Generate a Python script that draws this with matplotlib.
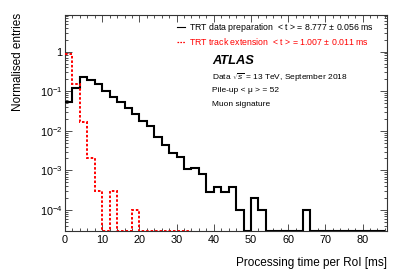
import numpy as np
import matplotlib
matplotlib.use("Agg")
import matplotlib.pyplot as plt
from matplotlib.lines import Line2D
from matplotlib.ticker import FixedLocator, FixedFormatter, LogLocator, MultipleLocator, NullFormatter

plt.rcParams['font.family'] = ['Liberation Sans', 'DejaVu Sans']
plt.rcParams['mathtext.fontset'] = 'custom'
plt.rcParams['mathtext.rm'] = 'Liberation Sans'
plt.rcParams['mathtext.it'] = 'Liberation Sans:italic'
plt.rcParams['mathtext.bf'] = 'Liberation Sans:bold'

# bin edges, 2 ms wide
edges_prep = np.arange(0, 88, 2)
edges_ext = np.arange(0, 36, 2)

# TRT data preparation, normalised entries per bin
prep = [0.054, 0.118, 0.223, 0.191, 0.149, 0.101, 0.072, 0.052, 0.038, 0.0264,
        0.0179, 0.0134, 0.0070, 0.00435, 0.00278, 0.0022, 0.00106, 0.00116, 0.00079, 0.00029,
        0.000386, 0.00029, 0.000386, 0.0001, 0, 0.0002, 0.0001, 0, 0, 0,
        0, 0, 0.0001, 0, 0, 0, 0, 0, 0, 0,
        0, 0, 0]
# TRT track extension
ext = [0.88, 0.152, 0.0166, 0.00205, 0.0003, 0, 0.0003, 0, 0, 0.0001,
       0, 0, 0, 0, 0, 0, 0]

yticks = [1e-4, 1e-3, 1e-2, 1e-1, 1]
ytick_labels = ['$10^{-4}$', '$10^{-3}$', '$10^{-2}$', '$10^{-1}$', '1']

ymin, ymax = 2.95e-5, 8.4
xmax = 86.5

fig = plt.figure(figsize=(4.07, 2.76), dpi=100)
ax = fig.add_axes([65 / 407, 1 - 231 / 276, 321.7 / 407, 216 / 276])

prep_plot = np.where(np.array(prep) > 0, prep, ymin)
ext_plot = np.where(np.array(ext) > 0, ext, ymin)

ax.stairs(prep_plot, edges_prep, baseline=None, color='black', lw=1.5, zorder=3)
ax.stairs(ext_plot, edges_ext, baseline=None, color='#ff0000', lw=1.4,
          linestyle=(0, (1.3, 1.0)), zorder=4)

ax.set_yscale('log')
ax.set_xlim(0, xmax)
ax.set_ylim(ymin, ymax)

ax.xaxis.set_major_locator(MultipleLocator(10))
ax.xaxis.set_minor_locator(MultipleLocator(2))
ax.yaxis.set_major_locator(FixedLocator(yticks))
ax.yaxis.set_major_formatter(FixedFormatter(ytick_labels))
ax.yaxis.set_minor_locator(LogLocator(base=10, subs=np.arange(2, 10), numticks=20))
ax.yaxis.set_minor_formatter(NullFormatter())

ax.tick_params(which='both', direction='in', top=True, right=True, width=0.6, colors='#333333',
               labelcolor='black', labelsize=7.8)
ax.tick_params(which='major', length=5)
ax.tick_params(which='minor', length=2.5)
ax.tick_params(axis='x', pad=3)
ax.tick_params(axis='y', pad=2)
for s in ax.spines.values():
    s.set_linewidth(0.8)
    s.set_color('#333333')

fig.text(18.3 / 407, 1 - 13 / 276, 'Normalised entries', rotation=90, ha='center', va='top', fontsize=8.5)
fig.text(386.7 / 407, 1 - 262.7 / 276, 'Processing time per RoI [ms]', ha='right', va='center', fontsize=8.5)

handles = [Line2D([], [], color='black', lw=0.8),
           Line2D([], [], color='#ff0000', lw=0.9, linestyle=(0, (1.3, 1.0)))]
labels = ['TRT data preparation  < t > = 8.777 $\\pm$ 0.056 ms',
          'TRT track extension  < t > = 1.007 $\\pm$ 0.011 ms']
leg = ax.legend(handles, labels, loc='upper left', bbox_to_anchor=(177 / 407, 1 - 21.5 / 276),
                bbox_transform=fig.transFigure, frameon=False, fontsize=6.3,
                handlelength=0.9, handletextpad=0.45, labelspacing=0.15, borderaxespad=0, borderpad=0)
leg.get_texts()[1].set_color('#ff0000')

ax.text(212 / 407, 1 - 61 / 276, 'ATLAS', transform=fig.transFigure, fontsize=9.3,
        fontweight='bold', fontstyle='italic', va='center', ha='left')
ax.text(212 / 407, 1 - 78 / 276, 'Data $\\sqrt{s}$ = 13 TeV, September 2018', transform=fig.transFigure,
        fontsize=6, va='center', ha='left')
ax.text(212 / 407, 1 - 91 / 276, 'Pile-up < μ > = 52', transform=fig.transFigure,
        fontsize=6, va='center', ha='left')
ax.text(212 / 407, 1 - 104 / 276, 'Muon signature', transform=fig.transFigure,
        fontsize=6, va='center', ha='left')

fig.savefig('out.png', dpi=100)
